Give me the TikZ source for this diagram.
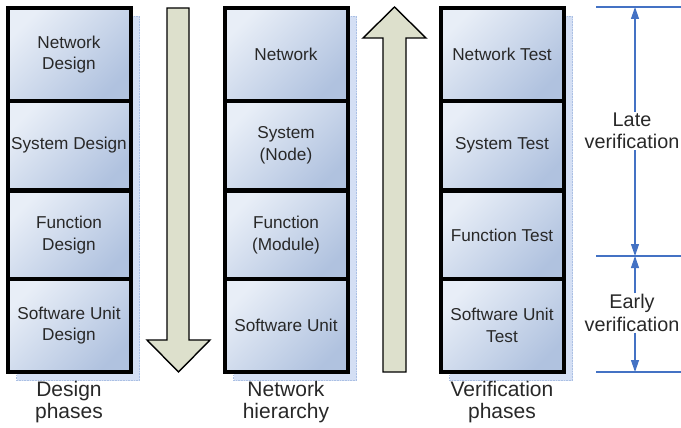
\documentclass[tikz,border=0pt]{standalone}
\usepackage{fontspec}
\setmainfont{Liberation Sans}
\usetikzlibrary{arrows.meta}

\definecolor{boxlight}{RGB}{232,238,247}
\definecolor{boxdark}{RGB}{176,194,223}
\definecolor{arrowfill}{RGB}{221,224,204}
\definecolor{dimblue}{RGB}{68,114,196}
\definecolor{shadowblue}{RGB}{212,223,244}
\definecolor{textgray}{RGB}{40,40,40}

\begin{document}
\begin{tikzpicture}[x=1pt,y=-1pt,
  phase/.style={draw=black, line width=4pt, top color=boxlight, bottom color=boxdark,
    shading angle=45, minimum width=123pt, inner sep=0pt, align=center,
    text=textgray, font=\fontsize{17.2}{21.5}\selectfont},
  tall/.style={minimum height=93pt},
  short/.style={minimum height=89pt},
  colshadow/.style={fill=shadowblue, draw=dimblue!45, densely dotted, line width=0.6pt},
  blockarrow/.style={fill=arrowfill, draw=black, line width=1.4pt, line join=miter},
  caption/.style={align=center, text=textgray, inner sep=0pt, font=\fontsize{21}{21.5}\selectfont},
  dimline/.style={draw=dimblue, line width=1.2pt},
  dimarrow/.style={draw=dimblue, line width=1.2pt, -{Triangle[length=12pt,width=8pt]}},
  dimtext/.style={align=center, text=textgray, inner sep=1pt, font=\fontsize{19.8}{22.5}\selectfont}
]
\useasboundingbox (0,0) rectangle (681,428);

% soft shadows behind the three columns
\foreach \cx in {69,286,502}
  \filldraw[colshadow] (\cx-52.5,16.5) rectangle (\cx+70.5,380.5);

% design phases
\node[phase,tall]  (nd) at (69,54.5)  {Network\\Design};
\node[phase,short] (sd) at (69,145.5) {System Design};
\node[phase,short] (fd) at (69,235)   {Function\\Design};
\node[phase,tall]  (ud) at (69,325.5) {Software Unit\\Design};

% network hierarchy
\node[phase,tall]  (nh) at (286,54.5)  {Network};
\node[phase,short] (sh) at (286,145.5) {System\\(Node)};
\node[phase,short] (fh) at (286,235)   {Function\\(Module)};
\node[phase,tall]  (uh) at (286,325.5) {Software Unit};

% verification phases
\node[phase,tall]  (nt) at (502,54.5)  {Network Test};
\node[phase,short] (st) at (502,145.5) {System Test};
\node[phase,short] (ft) at (502,235)   {Function Test};
\node[phase,tall]  (ut) at (502,325.5) {Software Unit\\Test};

% downward block arrow (design direction)
\draw[blockarrow] (167,8) -- (189,8) -- (189,340) -- (210,340) -- (178.5,372)
  -- (147,340) -- (167,340) -- cycle;

% upward block arrow (verification direction)
\draw[blockarrow] (383,372) -- (383,38) -- (363,38) -- (394.5,7) -- (426,38)
  -- (406,38) -- (406,372) -- cycle;

% column captions
\node[caption] (capd) at (69,402)  {Design\\phases};
\node[caption] (caph) at (286,402) {Network\\hierarchy};
\node[caption] (capv) at (502,402) {Verification\\phases};

% dimension marks for the verification stages
\coordinate (top0) at (596,7);   \coordinate (top1) at (681,7);
\coordinate (mid0) at (596,256); \coordinate (mid1) at (681,256);
\coordinate (bot0) at (596,372); \coordinate (bot1) at (681,372);
\draw[dimline] (top0) -- (top1);
\draw[dimline] (mid0) -- (mid1);
\draw[dimline] (bot0) -- (bot1);

\coordinate (lateup) at (635,7);
\coordinate (latedn) at (635,256);
\coordinate (earlyup) at (635,256);
\coordinate (earlydn) at (635,372);

\node[dimtext] (late)  at (632,131) {Late\\verification};
\node[dimtext] (early) at (632,313) {Early\\verification};

\draw[dimarrow] (late.north -| lateup)  -- (lateup);
\draw[dimarrow] (late.south -| latedn)  -- (latedn);
\draw[dimarrow] (early.north -| earlyup) -- (earlyup);
\draw[dimarrow] (early.south -| earlydn) -- (earlydn);
\end{tikzpicture}
\end{document}
